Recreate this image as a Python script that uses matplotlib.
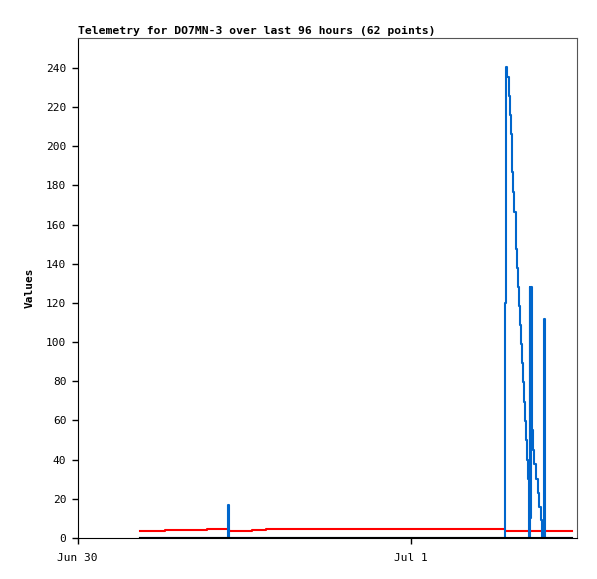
import pandas as pd
import numpy as np
import matplotlib
matplotlib.use("Agg")
import matplotlib.pyplot as plt
import matplotlib.dates as mdates

# 数据: hours after Jun 30 00:00
start = pd.Timestamp("2024-06-30 00:00")

hours = [4.51, 6.31, 9.34, 10.81, 10.89, 12.58, 13.59, 30.77,
         30.82, 30.88, 30.97, 31.05, 31.14, 31.22, 31.27, 31.33,
         31.39, 31.46, 31.55, 31.62, 31.69, 31.76, 31.82, 31.89,
         31.96, 32.03, 32.10, 32.18, 32.25, 32.32, 32.39, 32.45,
         32.49, 32.53, 32.58, 32.62, 32.66, 32.71, 32.77, 32.84,
         32.91, 33.02, 33.16, 33.27, 33.38, 33.43, 33.61, 33.67,
         35.65]

red = [3.7, 4.2, 4.75, 4.75, 3.7, 4.2, 4.75, 3.7,
       3.7, 3.7, 3.7, 3.7, 3.7, 3.7, 3.7, 3.7,
       3.7, 3.7, 3.7, 3.7, 3.7, 3.7, 3.7, 3.7,
       3.7, 3.7, 3.7, 3.7, 3.7, 3.7, 3.7, 3.7,
       3.7, 3.7, 3.7, 3.7, 3.7, 3.7, 3.7, 3.7,
       3.7, 3.7, 3.7, 3.7, 3.7, 3.7, 3.7, 3.7,
       3.7]

blue = [0, 0, 0, 17, 0, 0, 0, 0,
        120, 240.5, 235.3, 225.7, 216, 206.2, 196.5, 186.8,
        176.5, 166.7, 157, 147.5, 137.7, 128, 118.5, 108.8,
        99, 89.2, 79.5, 69.6, 59.9, 50, 40, 30,
        20, 0, 128, 10, 128, 63, 55, 45,
        38, 30, 23, 16, 9, 0, 112, 0,
        0]

black = [0] * len(hours)

t = start + pd.to_timedelta(hours, unit="h")

mono = "DejaVu Sans Mono"
plt.rcParams["font.family"] = mono

fig = plt.figure(figsize=(5.97, 5.79), dpi=100)
ax = fig.add_axes([77.5 / 597, 41 / 579, 499.8 / 597, 500 / 579])

ax.step(t, red, where="post", color="#ff0000", lw=1.5)
ax.step(t, blue, where="post", color="#0066cc", lw=1.5)
ax.step(t, black, where="post", color="black", lw=1.5)

ax.set_xlim(start, start + pd.Timedelta(hours=36))
ax.set_ylim(0, 255.3)
ax.set_yticks(np.arange(0, 241, 20))
ax.xaxis.set_major_locator(mdates.DayLocator())
ax.xaxis.set_major_formatter(mdates.DateFormatter("%b %-d"))

ax.tick_params(axis="both", labelsize=8, length=4, width=1, direction="out", pad=4)
ax.tick_params(axis="x", pad=7)
for s in ["top", "right"]:
    ax.spines[s].set_color("#555555")
for s in ["left", "bottom"]:
    ax.spines[s].set_color("black")

ax.set_ylabel("Values", fontsize=8, fontweight="bold", labelpad=8)
ax.set_title("Telemetry for DO7MN-3 over last 96 hours (62 points)",
             fontsize=8.2, fontweight="bold", loc="left", pad=3)

fig.savefig("out.png", dpi=100)
